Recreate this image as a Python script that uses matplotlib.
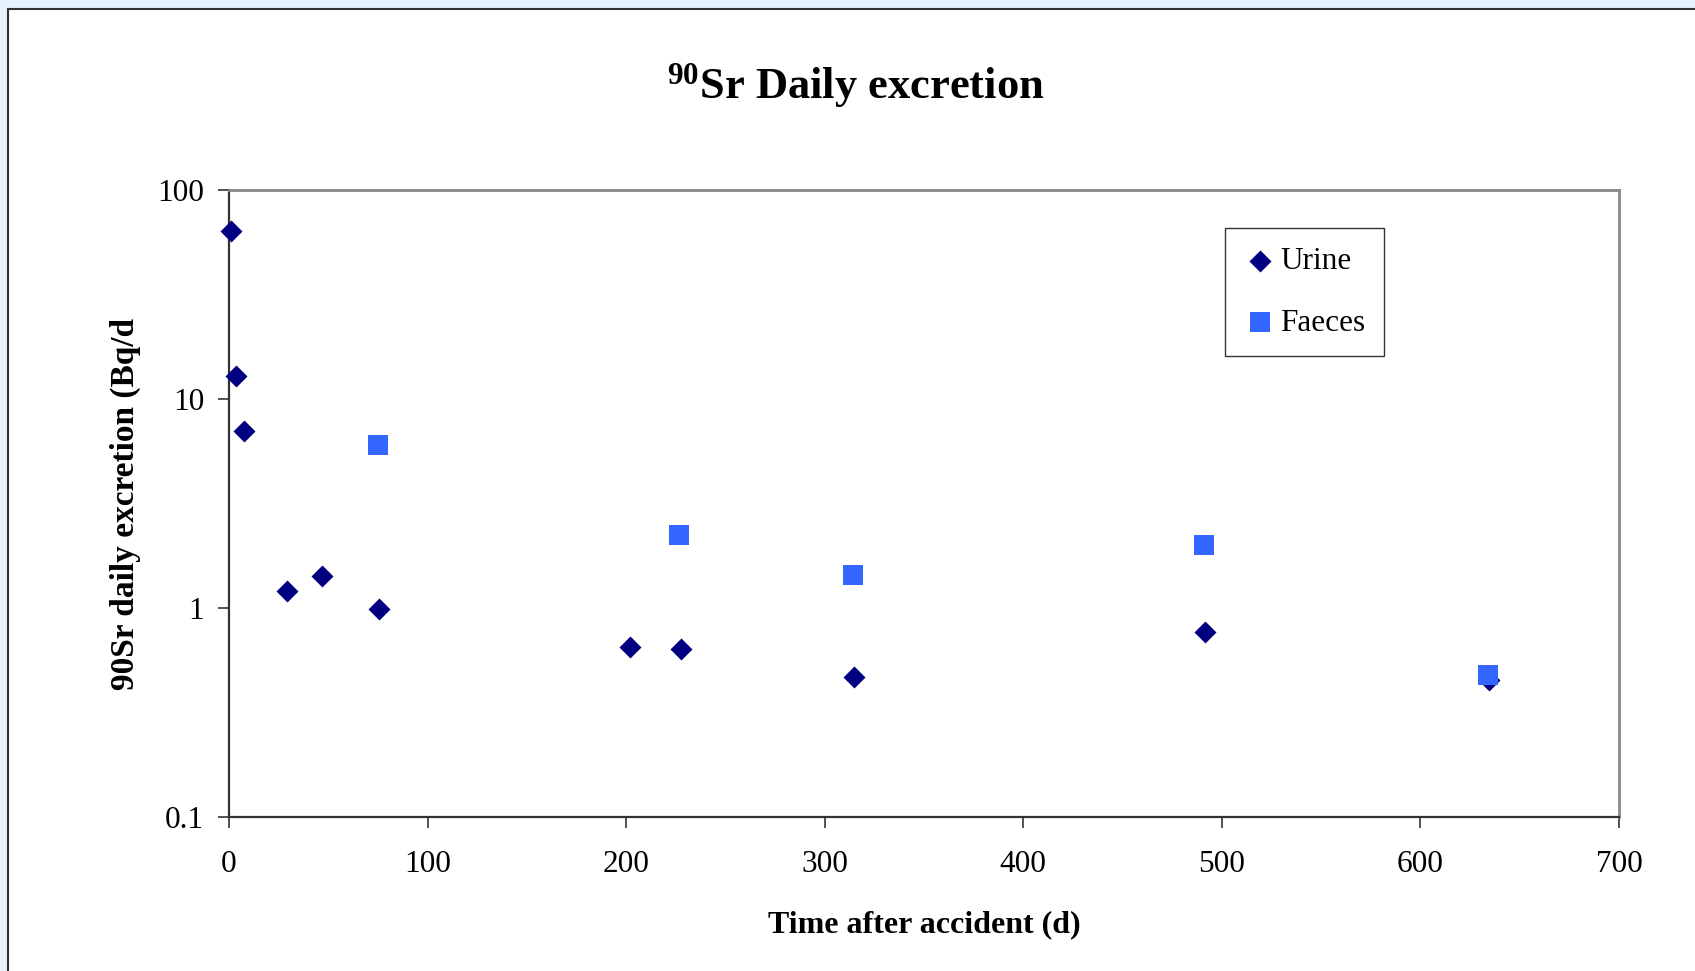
import matplotlib
matplotlib.use("Agg")
import matplotlib.pyplot as plt
from matplotlib.patches import Rectangle

plt.rcParams.update({
    "font.family": ["Liberation Serif", "DejaVu Serif"],
    "mathtext.fontset": "custom",
    "mathtext.rm": "Liberation Serif",
    "mathtext.bf": "Liberation Serif:bold",
})

# 90Sr excretion measurements (days after the accident, Bq/d)
urine_days = [1, 3.5, 7.7, 29, 46.7, 75.7, 202, 227.5, 314.5, 491.5, 634.5]
urine_bq = [64, 12.9, 7.0, 1.2, 1.42, 0.99, 0.65, 0.64, 0.47, 0.77, 0.45]
faeces_days = [75.2, 226.6, 314, 491, 634]
faeces_bq = [6.0, 2.23, 1.44, 2.0, 0.48]

x_ticks = [0, 100, 200, 300, 400, 500, 600, 700]
y_ticks = [0.1, 1, 10, 100]
y_ticklabels = ["0.1", "1", "10", "100"]

W, H = 1695, 971
fig = plt.figure(figsize=(W / 100, H / 100), dpi=100, facecolor="#e6f2fc")
# white chart panel with dark frame, kept behind the axes
fig.patches.append(Rectangle((8 / W, -0.01), 1.0, (H - 9) / H + 0.01, transform=fig.transFigure,
                             facecolor="white", edgecolor="#333333", lw=1.5, zorder=-10))

ax = fig.add_axes([229 / W, 1 - 817 / H, (1619 - 229) / W, (817 - 190) / H])
ax.scatter(urine_days, urine_bq, marker="D", s=11.2 ** 2, color="#000080", lw=0, label="Urine", zorder=3,
           clip_on=False)
ax.scatter(faeces_days, faeces_bq, marker="s", s=14.4 ** 2, color="#3366ff", lw=0, label="Faeces", zorder=4,
           clip_on=False)

ax.set_yscale("log")
ax.set_xlim(0, 700)
ax.set_ylim(0.1, 100)
ax.set_xticks(x_ticks)
ax.set_xticklabels([str(t) for t in x_ticks])
ax.set_yticks(y_ticks)
ax.set_yticklabels(y_ticklabels)
ax.yaxis.set_minor_locator(matplotlib.ticker.NullLocator())
ax.tick_params(axis="both", direction="out", length=8, width=1.3, color="#444444", labelsize=22.5)
ax.tick_params(axis="y", pad=10)
ax.tick_params(axis="x", pad=16)

for side in ("left", "bottom"):
    ax.spines[side].set_color("#333333")
    ax.spines[side].set_linewidth(1.6)
for side in ("top", "right"):
    ax.spines[side].set_color("#888888")
    ax.spines[side].set_linewidth(2)

ax.set_xlabel("Time after accident (d)", fontsize=23, fontweight="bold")
ax.xaxis.set_label_coords(0.5, -0.148)
ax.set_ylabel("90Sr daily excretion (Bq/d", fontsize=24, fontweight="bold")
ax.yaxis.set_label_coords(-0.063, 0.5)

fig.text(856 / W, 1 - 98 / H, r"$\mathbf{^{90}}$Sr Daily excretion", fontsize=32, fontweight="bold",
         ha="center", va="baseline")

leg = ax.legend(loc="upper left", bbox_to_anchor=(1225 / W, 1 - 228 / H), bbox_transform=fig.transFigure,
                frameon=True, fancybox=False, edgecolor="black", fontsize=22.5, labelspacing=1.05,
                handletextpad=0.12, borderpad=0.6, borderaxespad=0, handlelength=1.05, scatterpoints=1)
leg.get_frame().set_linewidth(1.0)

fig.savefig("out.png", dpi=100, facecolor=fig.get_facecolor())
